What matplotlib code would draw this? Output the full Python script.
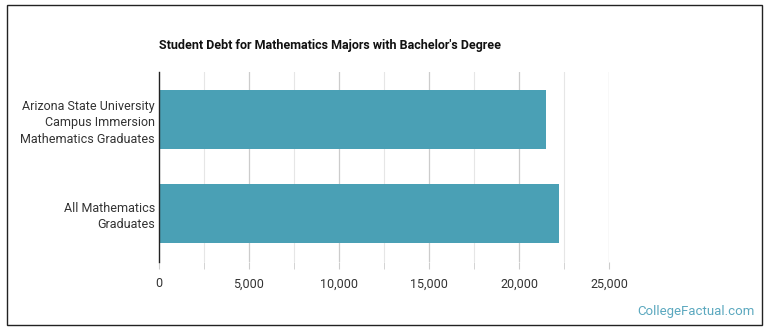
import matplotlib
matplotlib.use("Agg")
import matplotlib.pyplot as plt
from matplotlib.patches import Rectangle

plt.rcParams['font.family'] = ['Roboto', 'DejaVu Sans']

categories = ["Arizona State University\nCampus Immersion\nMathematics Graduates",
              "All Mathematics\nGraduates"]
values = [21500, 22200]
major_ticks = [0, 5000, 10000, 15000, 20000, 25000]
tick_labels = ["0", "5,000", "10,000", "15,000", "20,000", "25,000"]
minor_ticks = [2500, 7500, 12500, 17500, 22500]
title = "Student Debt for Mathematics Majors with Bachelor's Degree"
bar_color = "#4aa0b5"

W, H = 770, 335
fig = plt.figure(figsize=(W / 100, H / 100), dpi=100)
fig.patches.append(Rectangle((7 / W, 1 - 325 / H), 755 / W, 320 / H,
                             transform=fig.transFigure, fill=False,
                             edgecolor="#222222", linewidth=1.0))

ax = fig.add_axes([159 / W, 1 - 262 / H, (609 - 159) / W, (262 - 72) / H])
ax.barh(range(len(categories)), values, height=0.63, color=bar_color, zorder=3)
ax.set_xlim(0, 25000)
ax.set_ylim(1.52, -0.51)

for x in minor_ticks:
    ax.axvline(x, color="#e6e6e6", linewidth=0.8, zorder=1)
for x in major_ticks[1:]:
    ax.axvline(x, color="#cccccc", linewidth=0.9, zorder=1)

ax.set_xticks(major_ticks)
ax.set_xticklabels(tick_labels)
ax.set_xticks(minor_ticks, minor=True)
ax.tick_params(axis='x', which='both', length=5, color="#cccccc", labelsize=9,
               labelcolor="#333333", pad=6)
ax.set_yticks(range(len(categories)))
ax.set_yticklabels(categories, linespacing=1.35)
ax.tick_params(axis='y', length=0, labelsize=9, labelcolor="#333333", pad=3)

for s in ["top", "right", "bottom"]:
    ax.spines[s].set_visible(False)
ax.spines["left"].set_color("#222222")
ax.spines["left"].set_linewidth(1.0)
ax.spines["left"].set_zorder(4)

fig.text(159 / W, 1 - 46 / H, title, fontsize=9, fontweight="bold",
         color="#111111", va="center", ha="left")
fig.text(755 / W, 1 - 312 / H, "CollegeFactual.com", fontsize=9.5,
         color="#5ba8bf", va="center", ha="right")

fig.savefig("out.png", dpi=100)
